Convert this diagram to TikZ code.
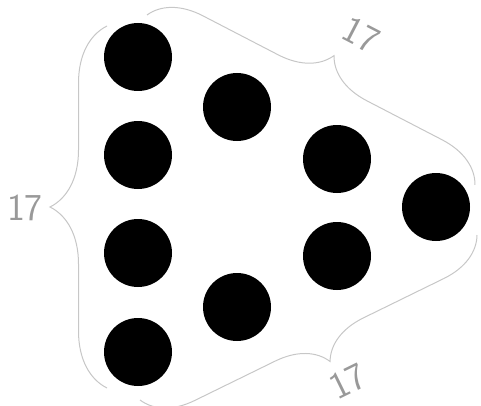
\documentclass[tikz,border=0pt]{standalone}
\usetikzlibrary{decorations.pathreplacing}
\begin{document}
\begin{tikzpicture}[x=1pt, y=1pt,
 dot/.style={circle, fill=black, inner sep=0pt, minimum size=68pt},
 brc/.style={draw=black!22, line width=1pt, decorate, decoration={brace, amplitude=#1}},
 cnt/.style={text=black!40, inner sep=0pt, font=\sffamily\fontsize{38}{38}\selectfont}]
 \useasboundingbox (0,0) rectangle (481,405);
 % first column
 \node[dot] (d1) at (138,348) {};
 \node[dot] (d2) at (138,250) {};
 \node[dot] (d3) at (138,152) {};
 \node[dot] (d4) at (138,53) {};
 % second column
 \node[dot] (d5) at (237,298) {};
 \node[dot] (d6) at (237,98) {};
 % third column
 \node[dot] (d7) at (337,246) {};
 \node[dot] (d8) at (337,149) {};
 % last one
 \node[dot] (d9) at (436,198) {};

 % brace ends
 \coordinate (lt) at (107,379);
 \coordinate (lb) at (107,17);
 \coordinate (tl) at (147,390);
 \coordinate (tr) at (475,220);
 \coordinate (bl) at (140,5);
 \coordinate (br) at (477,170);
 \draw[brc=57] (lb) -- (lt);
 \draw[brc=50] (tl) -- (tr);
 \draw[brc=49] (br) -- (bl);

 \node[cnt] (n1) at (25,197) {17};
 \node[cnt, rotate=-27.4] (n2) at (361,370) {17};
 \node[cnt, rotate=26.1] (n3) at (348,24) {17};
\end{tikzpicture}
\end{document}
